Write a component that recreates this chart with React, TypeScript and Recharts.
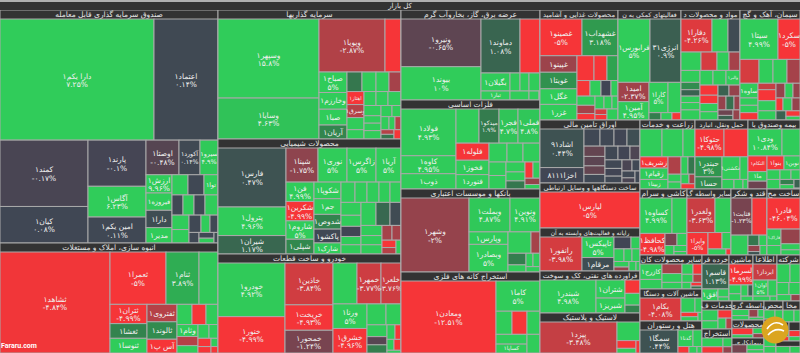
import React from "react";
import { Treemap } from "recharts";

type C = [string, number, number, boolean?];

const etf: C[] = [["دارا یکم۱",18634,7.25,true],["اعتماد۱",7744,0.14,true],["کمند۱",5808,-0.17,true],["کیان۱",3168,0.08,true],["پارند۱",2668,-0.1,true],["آگاس۱",1798,6.23,true],["امین یکم۱",1450,0.11,true],["اوصتا۱",1155,-0.48,true],["آکورد۱",735,0.14,true],["سیرو۱",595,4.9,true],["ارزش۱",468,9.96,true],["فیروزه۱",442,5],["دارا۱",442,0.3],["مدیر۱",390,5],["",315,5],["",315,0.1],["توا۱",315,5],["",231,0.1],["",231,5],["",231,0.1],["",231,5],["",250,5],["",220,5],["",200,0.1],["",160,5],["",130,0.1],["",110,0.1],["",90,0.1],["",70,5],["",50,0.3],["",30,5]];
const build: C[] = [["ثشاهد۱",11009,-4.84,true],["ثعمرا۱",2912,-5,true],["ثنام۱",1716,3.89,true],["",1040,4.9],["ثتران۱",703,-4.99,true],["ثغشا۱",555,2.2],["ثنوسا۱",518,5],["ثفتروی۱",510,-3],["ثالوند۱",510,2.6],["آس پ۱",450,-5],["",300,5],["",280,-5],["",240,5],["وثام۱",252,5],["",189,-3],["",147,5],["",150,5],["",130,5],["",110,-5],["",80,-5],["",60,5],["",40,-5]];
const invest: C[] = [["وسپهر۱",7900,15.8,true],["وسایا۱",4100,4.63,true],["وپویا۱",3484,-2.87,true],["",832,-5],["صباح۱",567,5,true],["وخارزم۱",459,5],["صبا۱",432,5],["آریان۱",378,2.3],["",285,1.7],["",270,5],["",247,5],["",240,-2.5],["اهتاز۱",220,-5],["وسرق۱",220,-3],["",200,5],["",180,5],["",170,5],["",170,5],["",170,5],["",170,5],["",130,5],["",130,5],["",130,5],["",120,5],["",110,5],["",100,5],["",80,5],["",70,-3],["",60,-3],["",60,1.7],["",50,-5]];
const chem: C[] = [["فارس۱",4050,0.47,true],["پترول۱",1950,4.96,true],["شیران۱",1300,1.17,true],["شپنا۱",1090,-1.75,true],["نوری۱",990,5,true],["زاگرس۱",990,5,true],["آریا۱",910,5,true],["فن۱",540,4.99,true],["شکرین۱",540,-4.99,true],["شاروم۱",510,5,true],["شپلی۱",470,2.4],["شکوپا۱",460,5],["جم۱",430,5],["شدوص۱",400,2.2],["پاکشو۱",370,0.1],["شارک۱",284,5],["",280,5],["",250,5],["",240,5],["",230,5],["",210,5],["",260,5],["",230,5],["",210,0],["",170,5],["",150,5],["",350,5],["",320,1.2],["",260,0.2],["",220,5],["",200,5],["",180,5],["",150,-2.5],["",130,-2.5],["",110,-5],["",90,-3],["",60,5]];
const auto: C[] = [["خودرو۱",3564,4.92,true],["خنور۱",2376,-4.99,true],["خاذین۱",1974,-3.84,true],["خریخت۱",1222,-4.93,true],["خمحور۱",1034,-1.24,true],["",960,5],["خمهر۱",960,-3.77,true],["خلعر۱",840,-3.76,true],["ورنا۱",840,5,true],["خشرق۱",800,-4.96,true],["",400,5],["",300,5],["",240,5],["",170,-0.5],["",140,2],["",110,5],["",90,-5],["",80,5],["",70,-5],["",50,5],["",40,1.7],["",30,-5]];
const power: C[] = [["ونیرو۱",3792,-0.65,true],["بیوند۱",2607,10,true],["دماوند۱",2090,1.08,true],["",1045,-5],["بگیلان۱",527,5],["تبار۱",248,5],["",182,5],["",168,5],["",182,5],["",168,5],["",90,5],["",30,-5]];
const metal: C[] = [["فولاد۱",2484,4.93,true],["کاوه۱",972,4.95,true],["ذوب۱",810,5],["",768,5],["میدکو۱",670,1.9,true],["فجر۱",640,4.7,true],["فملی۱",736,4.8,true],["فلوله۱",561,-5],["فخوز۱",462,5],["فنورد۱",462,5],["",324,5],["",290,5],["",306,5],["",230,5],["",210,5],["",190,5],["",170,5],["",150,1.7],["",120,-5],["",120,5],["",90,-2],["",70,5]];
const bank: C[] = [["وشهر۱",4958,-2,true],["وبملت۱",1360,4.87,true],["ونوین۱",988,4.91,true],["وپارس۱",494,5],["وبصادر۱",1054,5,true],["",480,5],["",190,-2.5],["",200,2],["",130,5],["",90,5],["",90,5],["",70,5]];
const mining: C[] = [["ومعادن۱",6840,-12.51,true],["کاما۱",1320,5,true],["",378,5],["",336,-5],["",294,5],["",290,5],["کساپا۱",286,5],["",260,5]];
const food: C[] = [["غصینو۱",1554,-5,true],["غشهداب۱",1332,3.18,true],["غپینو۱",620,-2.2],["غویتا۱",600,2.8],["غگل۱",590,5],["غزر۱",585,5],["",425,-5],["",325,-5],["",275,3.5],["",195,-5],["",165,5],["",150,0],["",120,5],["",160,5],["",140,-2.5],["",130,-5],["",110,5],["",100,5],["",90,5],["",70,-4],["",60,-5],["",50,5]];
const support: C[] = [["فرابورس۱",2048,5,true],["انرژی۳۱",1984,0.9,true],["امید۱",608,-2.37,true],["آمین۱",576,4.95,true],["کارا۱",576,5,true],["",416,5],["",90,2],["",80,5],["",40,-5]];
const materials: C[] = [["دفارا۱",992,-4.26,true],["",512,5],["",352,0.2],["",360,5],["",288,-4],["",216,5],["",198,-2.5],["",221,5],["",140,2.6],["",117,1],["",117,5],["",130,5],["",190,5],["",190,5],["",190,5],["والبر۱",190,5],["",170,-5],["",150,-5],["",140,5],["",130,5],["",120,1],["",120,-2],["",110,-2],["",100,1.5],["",90,-2],["",80,-1],["",70,1],["",60,-2]];
const cement: C[] = [["سیتا۱",1443,4.99,true],["سکرد۱",858,-5,true],["",432,-4],["",312,5],["",312,5],["",312,-2.5],["ساوه۱",247,5],["",130,5],["",120,5],["",120,-5],["",110,-3.5],["",190,-5],["",170,5],["",150,5],["",120,-2],["",110,5],["",100,-2],["",90,-5],["",110,5],["",100,-2],["",90,1],["",70,-5],["",60,5]];
const bonds: C[] = [["اشاد۹۱",1600,0.44,true],["اخزا۸۱۱۱",615,0.05],["",256,0.1],["",224,0.1],["",208,0.05],["",208,0.3],["",209,-0.8],["",180,-0.6],["",170,-0.8],["",170,0.1],["",160,0.1],["",150,0],["",140,-0.3],["",130,0.1],["",120,0],["",110,0.1],["",100,-0.2],["",90,0.1],["",80,0.1],["",70,-0.2],["",50,0.1]];
const farm: C[] = [["",594,5],["",567,5],["",324,5],["زشریف۱",297,-5],["زقیام۱",297,5],["زبینا۱",270,5],["",224,-2.8],["",112,5],["",112,1.7],["",99,5],["",88,5],["",70,5],["",60,-2.5],["",50,-5]];
const transport: C[] = [["حتوکا۱",812,-4.98,true],["",696,-5],["حبندر۱",544,3,true],["حسا۱",340,2.6],["حکشتی۱",416,5],["",182,5],["",117,5],["",90,5],["",50,5]];
const insurance: C[] = [["ودی۱",884,10.84,true],["",442,5],["التکام۱",286,-5],["ما۱",169,5],["",130,-1],["بنوا۱",220,-5],["نوین۱",220,5],["",120,5],["",110,5],["",100,5],["",80,5],["",70,2],["",60,5],["",50,1],["",40,-2]];
const device: C[] = [["لپارس۱",3564,-5,true]];
const it: C[] = [["رانفور۱",1360,-3.98,true],["تاپیکس۱",627,5,true],["مرقام۱",429,0.3],["",192,0],["",108,5],["",120,5],["",100,5],["",90,5],["",80,5],["",60,-2],["",60,5],["",50,5]];
const oil: C[] = [["شبندر۱",1760,4.98,true],["شتران۱",493,5],["شبریز۱",435,5],["",195,-5],["",165,5],["",120,2.2]];
const rubber: C[] = [["پپزد۱",2356,-3.48,true],["",414,5],["",138,-5],["",90,5],["",50,-5]];
const tile: C[] = [["کساوه۱",1147,4.99,true],["",555,5],["کحافظ۱",560,-4.98,true],["",143,-1.2],["",120,5],["",90,5],["",80,5],["",50,5]];
const broker: C[] = [["ولغدر۱",945,-3.63,true],["",560,5],["وایرا۱",460,-5,true],["",229,-5],["",141,5],["",110,5],["",49,-5]];
const sugar: C[] = [["قثابت۱",800,-1.23,true],["",600,-5],["",360,5],["",120,1.7],["",90,5],["",70,-2],["",50,0.5],["",40,5]];
const build2: C[] = [["فادر۱",1088,-46.04,true],["فاراک۱",242,5],["",132,5],["",286,-2],["",120,5],["",104,5]];
const otherMin: C[] = [["کازرج۱",330,5],["",210,5],["",190,-2.5],["",170,5],["",140,5],["",110,5],["",90,-5],["",90,5],["",70,-3],["",60,5],["",40,-5],["",30,1.5]];
const machine: C[] = [["بکام۱",989,-4.08,true],["",207,5],["",110,5],["",80,-5],["",70,5],["",40,5]];
const hotel: C[] = [["سمگا۱",814,0.44,true],["گدنا۱",238,5],["",130,5],["",70,-5],["",50,5],["",40,5]];
const retail: C[] = [["قاسم۱",702,1.13,true],["افق۱",198,5],["",90,5],["",60,5]];
const mach2: C[] = [["لسرما۱",528,-4.99,true],["",110,5],["",100,5],["",80,5],["",60,1],["",50,5]];
const info: C[] = [["ابرداز۱",408,-3.6],["اوان۱",260,5,true],["",150,5],["",90,5],["",50,5]];
const company: C[] = [["",250,5],["",190,5],["",150,5],["",130,5],["",90,5],["",70,-2]];
const finSvc: C[] = [["",200,5],["",150,5],["",130,-5],["",100,5],["",70,-3]];
const extract: C[] = [["",240,5],["",180,-5],["",100,5],["",70,-2]];
const brokerage: C[] = [["",170,5],["",130,5],["",110,-2],["",90,5],["",60,5]];
const prods: C[] = [["",210,-5],["",120,5],["",100,5],["",70,-2]];
const contract: C[] = [["",130,-1.2],["",90,5],["",60,5]];
const prod: C[] = [["",120,5],["",90,5],["",60,-1]];
const tel: C[] = [["",100,5],["",60,5]];
const activity: C[] = [["",100,5],["",60,5]];
const misc1: C[] = [["",60,5],["",40,-5]];
const misc2: C[] = [["",60,-5],["",40,5]];
const misc3: C[] = [["",60,5],["",40,5]];

const sectorNames = ["صندوق سرمایه گذاری قابل معامله","انبوه سازی، املاک و مستغلات","سرمایه گذاریها","محصولات شیمیایی","خودرو و ساخت قطعات","عرضه برق، گاز، بخاروآب گرم","فلزات اساسی","بانکها و موسسات اعتباری","استخراج کانه های فلزی","محصولات غذایی و آشامید","فعالیتهای کمکی به ن","مواد و محصولات د","سیمان، آهک و گچ","اوراق تامین مالی","ساخت دستگاهها و وسایل ارتباطی","رایانه و فعالیت‌های وابسته به آن","فراورده های نفتی، کک و سوخت","لاستیک و پلاستیک","زراعت و خدمات","حمل ونقل، انبارد","بیمه وصندوق با","کاشی و سرام","سایر واسطه گ","قند و شکر","ساخت مح","سایر محصولات کان","ماشین آلات و دستگا","هتل و رستوران","خرده فر","ماشین","اطلاعا","شرکته","خدمات ف","استخراج","واسطه گری","محصولات","پیمانکاری","محص","مخا","ف","فعال","چ","س","ک"];
const sectorSizes = [50794,23980,23607,21045,18117,12510,12371,11537,11259,8620,6950,6515,6515,6300,4450,4250,4150,4150,3795,3657,3588,3082,2881,2345,2278,2130,2000,1950,1242,1104,1104,1058,837,713,600,560,495,400,340,60,310,240,220,165];
const sectorCells = [etf,build,invest,chem,auto,power,metal,bank,mining,food,support,materials,cement,bonds,device,it,oil,rubber,farm,transport,insurance,tile,broker,sugar,build2,otherMin,machine,hotel,retail,mach2,info,company,finSvc,extract,brokerage,prods,contract,prod,tel,misc3,activity,misc1,misc2,misc3];

const tableData = sectorNames.map((name, i) => {
  const cells = sectorCells[i];
  const total = cells.reduce((s, c) => s + c[1], 0);
  return {
    name,
    children: cells.map((c) => ({
      name: c[0],
      value: (sectorSizes[i] * c[1]) / total,
      pct: c[2],
      showPct: !!c[3],
    })),
  };
});

const stops: [number, number[]][] = [
  [-5, [246, 53, 56]],
  [-3.33, [191, 64, 69]],
  [-1.67, [139, 68, 78]],
  [0, [65, 69, 84]],
  [1.67, [53, 118, 78]],
  [3.33, [47, 158, 79]],
  [5, [48, 204, 90]],
];
function colorOf(p: number) {
  const v = Math.max(-5, Math.min(5, p));
  for (let i = 0; i < stops.length - 1; i++) {
    const [a, ca] = stops[i];
    const [b, cb] = stops[i + 1];
    if (v <= b) {
      const t = (v - a) / (b - a);
      return `rgb(${ca.map((c, k) => Math.round(c + (cb[k] - c) * t)).join(",")})`;
    }
  }
  return "rgb(48,204,90)";
}
const fa = (p: number) =>
  `${p}%`.replace(/\d/g, (d) => "۰۱۲۳۴۵۶۷۸۹"[+d]);

const HEAD = 9;
const FONT = '"DejaVu Sans", "Noto Sans", sans-serif';

function Node(props: any) {
  const { depth, x, y, width, height, name, pct, showPct, root } = props;
  if (depth === 0) return null;
  if (depth === 1) {
    return (
      <g>
        <rect x={x} y={y} width={width} height={height} fill="#333333" stroke="#aaaaaa" strokeWidth={1} />
        {width > 12 && height > 12 ? (
          <text x={x + width / 2} y={y + 7.2} textAnchor="middle" fontFamily={FONT}
            fontSize={Math.min(7.5, (width / Math.max(name.length, 1)) * 1.9)} fill="#e6e6e6">{name}</text>
        ) : null}
      </g>
    );
  }
  const head = Math.min(HEAD, root.height * 0.45);
  const scale = (root.height - head) / root.height;
  const yy = root.y + head + (y - root.y) * scale;
  const hh = height * scale;
  const cx = x + width / 2;
  const cy = yy + hh / 2;
  const fs = Math.max(4, Math.min(7.5, (width / Math.max(name.length, 1)) * 1.8, hh * 0.62));
  return (
    <g>
      <rect x={x} y={yy} width={width} height={hh} fill={colorOf(pct)} stroke="#aaaaaa" strokeWidth={1} />
      {name ? (
        <text x={cx} y={showPct ? cy - 1 : cy + fs * 0.35} textAnchor="middle" fontFamily={FONT} fontSize={fs} fill="#f0f0f0">{name}</text>
      ) : null}
      {name && showPct ? (
        <text x={cx} y={cy + fs} textAnchor="middle" fontFamily={FONT} fontSize={fs} fill="#f0f0f0" direction="ltr">{fa(pct)}</text>
      ) : null}
    </g>
  );
}

export default function App() {
  return (
    <div style={{ position: "absolute", left: 0, top: 0, width: 800, height: 353, background: "#b0b0b0", overflow: "hidden" }}>
      <div style={{ position: "absolute", left: 0, top: 2, width: 800, height: 8, background: "#333333", color: "#e6e6e6", fontFamily: FONT, fontSize: 7, lineHeight: "8px", textAlign: "center" }}>کل بازار</div>
      <div style={{ position: "absolute", left: 0, top: 10 }}>
        <Treemap width={800} height={343} data={tableData} dataKey="value" type="flat"
          isAnimationActive={false} isUpdateAnimationActive={false}
          content={(p: any) => <Node {...p} />} />
      </div>
      <div style={{ position: "absolute", left: 1, top: 342, color: "#ffffff", fontFamily: "Roboto, sans-serif", fontWeight: 700, fontSize: 7, lineHeight: "9px" }}>Fararu.com</div>
      <svg style={{ position: "absolute", left: 760, top: 315 }} width={30} height={30}>
        <circle cx={15} cy={15} r={13.5} fill="#dba520" />
        <path d="M7 14 Q14 4 23 10 M8 20 Q15 12 24 16" fill="none" stroke="#ffffff" strokeWidth={1.6} />
      </svg>
    </div>
  );
}
